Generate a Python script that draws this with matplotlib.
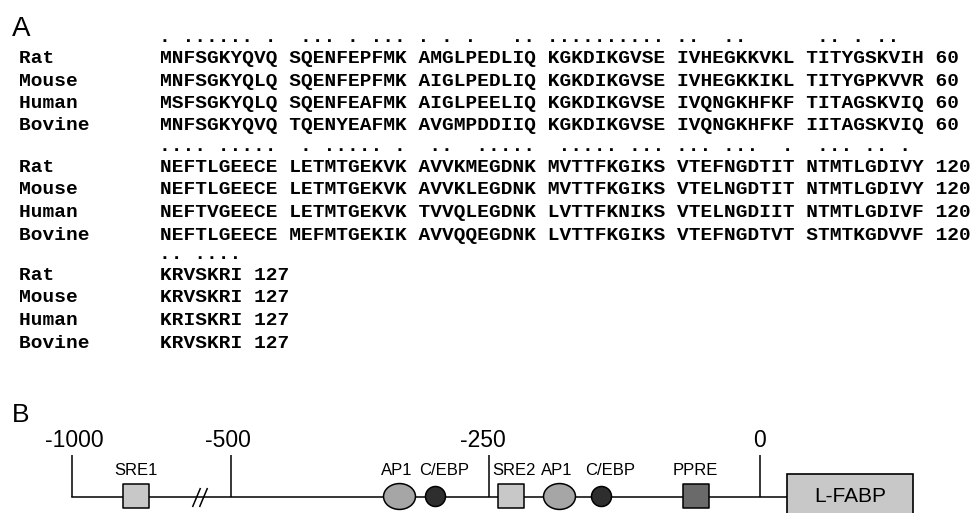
import numpy as np
import matplotlib
matplotlib.use('Agg')
import matplotlib.pyplot as plt
from matplotlib.path import Path
from matplotlib.patches import Rectangle

# L-FABP protein sequences, 127 residues each
species = ['Rat', 'Mouse', 'Human', 'Bovine']
sequences = [
    'MNFSGKYQVQSQENFEPFMKAMGLPEDLIQKGKDIKGVSEIVHEGKKVKLTITYGSKVIH'
    'NEFTLGEECELETMTGEKVKAVVKMEGDNKMVTTFKGIKSVTEFNGDTITNTMTLGDIVY'
    'KRVSKRI',
    'MNFSGKYQLQSQENFEPFMKAIGLPEDLIQKGKDIKGVSEIVHEGKKIKLTITYGPKVVR'
    'NEFTLGEECELETMTGEKVKAVVKLEGDNKMVTTFKGIKSVTELNGDTITNTMTLGDIVY'
    'KRVSKRI',
    'MSFSGKYQLQSQENFEAFMKAIGLPEELIQKGKDIKGVSEIVQNGKHFKFTITAGSKVIQ'
    'NEFTVGEECELETMTGEKVKTVVQLEGDNKLVTTFKNIKSVTELNGDIITNTMTLGDIVF'
    'KRISKRI',
    'MNFSGKYQVQTQENYEAFMKAVGMPDDIIQKGKDIKGVSEIVQNGKHFKFIITAGSKVIQ'
    'NEFTLGEECEMEFMTGEKIKAVVQQEGDNKLVTTFKGIKSVTEFNGDTVTSTMTKGDVVF'
    'KRVSKRI',
]
# marks above each alignment line, one string per 10-residue block
consensus = [
    ['. ...... .', ' ... . ...', '. . .   ..', '..........', '..  ..    ', ' .. . ..  '],
    ['.... .....', ' . ..... .', ' ..  .....', ' ..... ...', '... ...  .', ' ... .. . '],
    ['.. ....'],
]
line_ends = [60, 120, 127]

# promoter map (bp upstream of the start site)
tick_bp = [-1000, -500, -250, 0]
tick_labels = ['-1000', '-500', '-250', '0']
elements = ['SRE1', 'AP1', 'C/EBP', 'SRE2', 'AP1', 'C/EBP', 'PPRE']
element_bp = [-800, -337, -302, -229, -185, -146, -59]
element_kind = ['box', 'oval', 'dot', 'box', 'oval', 'dot', 'darkbox']
gene = 'L-FABP'
gene_bp = [25, 142]
break_bp = [-610, -588]

mono = 'Liberation Mono'
sans = 'Liberation Sans'

fig = plt.figure(figsize=(9.71, 5.13), dpi=100)
ax = fig.add_axes([0, 0, 1, 1])
ax.set_xlim(0, 971)
ax.set_ylim(513, 0)
ax.axis('off')

ax.text(12, 36, 'A', fontsize=20, family=sans, va='baseline')
ax.text(12, 422, 'B', fontsize=19, family=sans, va='baseline')

# alignment: 14 pt mono -> 11.67 px per character, names take 12 columns
x_name = 19
x_seq = x_name + 12 * 14 * 0.6 * 100 / 72
block_top = [42, 151, 259]
pitch = 22.5
start = 0
for k, end in enumerate(line_ends):
    y0 = block_top[k]
    ax.text(x_seq, y0, ' '.join(consensus[k]), family=mono,
            fontweight='bold', fontsize=14, va='baseline')
    for i, (name, seq) in enumerate(zip(species, sequences)):
        part = seq[start:end]
        blocks = ' '.join(part[j:j + 10] for j in range(0, len(part), 10))
        row = f'{name:<12}{blocks} {end}'
        ax.text(x_name, y0 + 21 + i * pitch, row, family=mono, fontweight='bold',
                fontsize=14, va='baseline')
    start = end

# promoter panel on a broken bp scale
bp_knots = [-1400, -1000, -500, -250, 0, 300]
px_knots = [-55.2, 72, 231, 488.5, 759.5, 1084.7]
fwd = lambda x: np.interp(x, bp_knots, px_knots)
inv = lambda p: np.interp(p, px_knots, bp_knots)

ax2 = fig.add_axes([0, 0, 1, 1])
ax2.set_xscale('function', functions=(fwd, inv))
ax2.set_xlim(inv(0), inv(971))
ax2.set_ylim(513, 0)
ax2.axis('off')

yl = 497
ax2.plot([tick_bp[0], gene_bp[0]], [yl, yl], color='k', lw=1.1, zorder=1)
ax2.vlines(tick_bp, 455, yl, color='k', lw=1.1, zorder=1)
tick_shift = [2, -3, -6, 0]
for b, lab, dx in zip(tick_bp, tick_labels, tick_shift):
    ax2.annotate(lab, (b, 447), xytext=(dx, 0), textcoords='offset pixels',
                 family=sans, fontsize=16.5, ha='center', va='baseline')

slash = Path([(-0.21, -0.5), (0.21, 0.5)])
ax2.plot(break_bp, [yl, yl], ls='none', marker=slash, ms=13.7,
         mfc='none', mec='k', mew=1.1, zorder=2)

box = Path([(-1, -0.89), (1, -0.89), (1, 0.89), (-1, 0.89), (-1, -0.89)],
           [Path.MOVETO, Path.LINETO, Path.LINETO, Path.LINETO, Path.CLOSEPOLY])
oval_v = Path.unit_circle().vertices * np.array([1.0, 0.81])
oval = Path(oval_v, Path.unit_circle().codes)
styles = {
    'box': dict(marker=box, ms=19.4, mfc='#c8c8c8'),
    'darkbox': dict(marker=box, ms=19.4, mfc='#6a6a6a'),
    'oval': dict(marker=oval, ms=23, mfc='#a6a6a6'),
    'dot': dict(marker='o', ms=14.4, mfc='#2e2e2e'),
}
label_shift = {'SRE1': 0, 'AP1': -2, 'C/EBP': 9, 'SRE2': 3, 'PPRE': 0}
for name, b, kind in zip(elements, element_bp, element_kind):
    ax2.plot([b], [495.5], ls='none', mec='k', mew=1.1, zorder=3, **styles[kind])
    ax2.annotate(name, (b, 475), xytext=(label_shift[name], 0),
                 textcoords='offset pixels', family=sans, fontsize=12,
                 ha='center', va='baseline')

ax2.add_patch(Rectangle((gene_bp[0], 474), gene_bp[1] - gene_bp[0], 60,
                        fc='#c8c8c8', ec='k', lw=1.2, zorder=3))
ax2.text(np.mean(gene_bp), 497, gene, family=sans, fontsize=15,
         ha='center', va='center', zorder=4)

fig.savefig('out.png', dpi=100)
